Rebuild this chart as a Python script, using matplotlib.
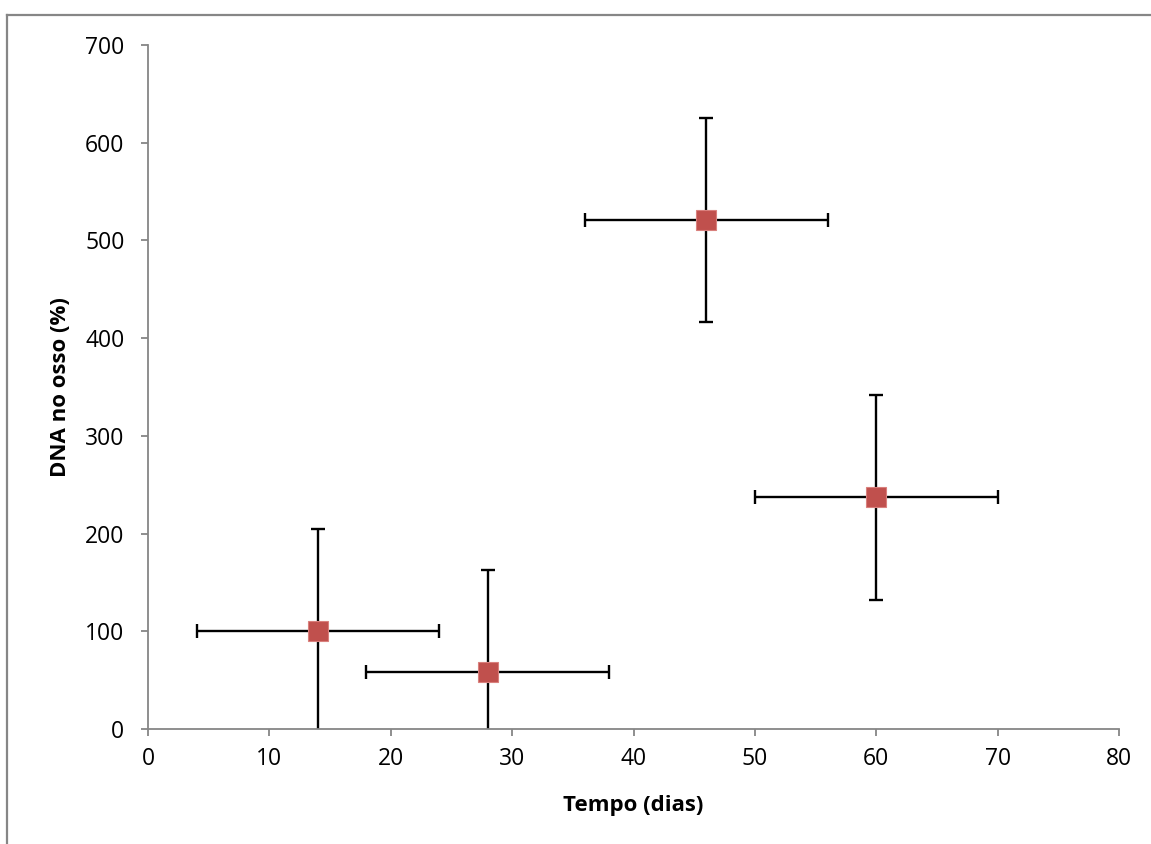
import matplotlib
matplotlib.use("Agg")
import matplotlib.pyplot as plt
from matplotlib.lines import Line2D

plt.rcParams['font.family'] = ['Open Sans', 'DejaVu Sans']

tempo = [14, 28, 46, 60]
dna = [100, 58, 521, 237]
x_err = [10, 10, 10, 10]
y_err = [105, 105, 104.5, 104.5]
x_ticks = [0, 10, 20, 30, 40, 50, 60, 70, 80]
y_ticks = [0, 100, 200, 300, 400, 500, 600, 700]

W, H = 1151, 844
fig = plt.figure(figsize=(W / 100, H / 100), dpi=100)
ax = fig.add_axes([148 / W, 1 - 729 / H, (1119 - 148) / W, (729 - 45) / H])

ax.errorbar(tempo, dna, xerr=x_err, yerr=y_err, fmt='none', ecolor='black',
            elinewidth=1.7, capsize=5, capthick=1.7, zorder=2)
ax.plot(tempo, dna, linestyle='none', marker='s', markersize=14,
        markerfacecolor='#C0504D', markeredgecolor='#D9807D', markeredgewidth=0.8,
        zorder=3)

ax.set_xlim(0, 80)
ax.set_ylim(0, 700)
ax.set_xticks(x_ticks)
ax.set_yticks(y_ticks)
ax.tick_params(axis='both', direction='out', length=5, width=1.3, color='#868686',
               labelsize=16.5)
ax.tick_params(axis='y', pad=12)
ax.tick_params(axis='x', pad=8)
for s in ['top', 'right']:
    ax.spines[s].set_visible(False)
for s in ['left', 'bottom']:
    ax.spines[s].set_color('#868686')
    ax.spines[s].set_linewidth(1.3)

ax.set_xlabel('Tempo (dias)', fontsize=16, fontweight='bold', labelpad=17)
ax.set_ylabel('DNA no osso (%)', fontsize=16, fontweight='bold', labelpad=10)

# outer chart border (partially visible)
fig.add_artist(Line2D([7.5 / W, 1.0], [1 - 14.5 / H, 1 - 14.5 / H], color='#868686',
                      lw=1.6, transform=fig.transFigure))
fig.add_artist(Line2D([7.5 / W, 7.5 / W], [0.0, 1 - 14.5 / H], color='#868686',
                      lw=1.6, transform=fig.transFigure))

fig.savefig('out.png', dpi=100)
